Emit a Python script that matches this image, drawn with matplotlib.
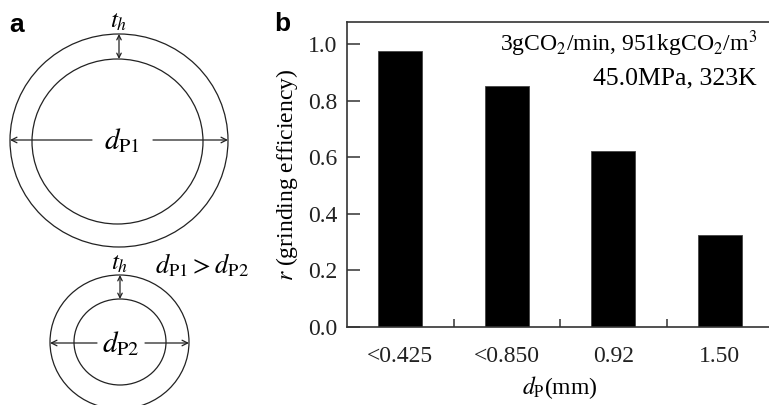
import matplotlib
matplotlib.use("Agg")
import matplotlib.pyplot as plt
from matplotlib.patches import Ellipse

plt.rcParams["font.family"] = ["Liberation Serif", "DejaVu Serif"]
plt.rcParams["mathtext.fontset"] = "stix"

# Grinding efficiency by particle size
categories = ["<0.425", "<0.850", "0.92", "1.50"]
efficiency = [0.976, 0.852, 0.623, 0.324]
yticks = [0.0, 0.2, 0.4, 0.6, 0.8, 1.0]

W, H = 769, 405
fig = plt.figure(figsize=(W / 100, H / 100), dpi=100)

# ---- panel a: shell-thickness sketch, drawn in pixel units ----
sk = fig.add_axes([0, 0, 1, 1])
sk.set_xlim(0, W)
sk.set_ylim(H, 0)
sk.axis("off")
line_c = "#222222"

# (cx, cy, width, height) of outer and inner rings for the two particles
rings = [(119, 140.5, 218, 213), (117.5, 141.5, 171, 165),
         (119.5, 342, 139, 134), (120, 342, 92, 86)]
for cx, cy, w, h in rings:
    sk.add_patch(Ellipse((cx, cy), w, h, fill=False, ec=line_c, lw=0.9))

arrow = dict(arrowstyle="->", color=line_c, lw=0.9, shrinkA=0, shrinkB=0,
             mutation_scale=10)
darrow = dict(arrowstyle="<->", color=line_c, lw=0.9, shrinkA=0, shrinkB=0,
              mutation_scale=8)

# diameter arrows (split around the label)
sk.annotate("", xy=(10, 140), xytext=(92, 140), arrowprops=arrow)
sk.annotate("", xy=(228, 140), xytext=(153, 140), arrowprops=arrow)
sk.annotate("", xy=(50, 343), xytext=(97, 343), arrowprops=arrow)
sk.annotate("", xy=(189, 343), xytext=(145, 343), arrowprops=arrow)
# shell thickness arrows
sk.annotate("", xy=(119, 34), xytext=(119, 59), arrowprops=darrow)
sk.annotate("", xy=(120, 275), xytext=(120, 299), arrowprops=darrow)

sk.text(122, 141, r"$d_{\mathrm{P1}}$", fontsize=21, ha="center", va="center")
sk.text(121, 344, r"$d_{\mathrm{P2}}$", fontsize=21, ha="center", va="center")
sk.text(119, 22, r"$t_h$", fontsize=18, ha="center", va="center")
sk.text(120, 264, r"$t_h$", fontsize=18, ha="center", va="center")
sk.text(202, 265, r"$d_{\mathrm{P1}} > d_{\mathrm{P2}}$", fontsize=19,
        ha="center", va="center")

fig.text(9 / W, 1 - 25 / H, "a", fontsize=19, fontweight="bold",
         family="Liberation Sans", ha="left", va="center")
fig.text(274 / W, 1 - 24 / H, "b", fontsize=19, fontweight="bold",
         family="Liberation Sans", ha="left", va="center")

# ---- panel b: bar chart ----
left, right, top, bottom = 347, 773, 22, 327
ax = fig.add_axes([left / W, 1 - bottom / H, (right - left) / W, (bottom - top) / H])
x = list(range(len(categories)))
ax.bar(x, efficiency, width=0.41, color="black", edgecolor="#444444", lw=0.6)

ax.set_xlim(-0.5, 3.5)
ax.set_ylim(0, 1.078)
ax.set_yticks(yticks)
ax.set_yticklabels([f"{v:.1f}" for v in yticks])
ax.set_xticks(x)
ax.set_xticklabels(categories)
ax.set_xticks([0.5, 1.5, 2.5], minor=True)

ax.tick_params(axis="y", direction="in", length=9, width=1.1, labelsize=17,
               pad=7, colors="#333333", labelcolor="#222222")
ax.tick_params(axis="x", which="major", length=0, labelsize=17, pad=14,
               labelcolor="#222222")
ax.tick_params(axis="x", which="minor", direction="in", length=5.5, width=1.1,
               colors="#333333")

for side in ["top", "left", "bottom"]:
    ax.spines[side].set_linewidth(1.2)
    ax.spines[side].set_color("#333333")
ax.spines["right"].set_visible(False)

ax.set_ylabel(r"$r$ (grinding efficiency)", fontsize=17, labelpad=6)
ax.set_xlabel(r"$d_{\mathrm{P}}$(mm)", fontsize=17, labelpad=5)

ax.text(757, 44, r"3gCO$_2$/min, 951kgCO$_2$/m$^3$", fontsize=17,
        ha="right", va="center", transform=sk.transData)
ax.text(757, 78, "45.0MPa, 323K", fontsize=18.5,
        ha="right", va="center", transform=sk.transData)

fig.savefig("out.png", dpi=100)
